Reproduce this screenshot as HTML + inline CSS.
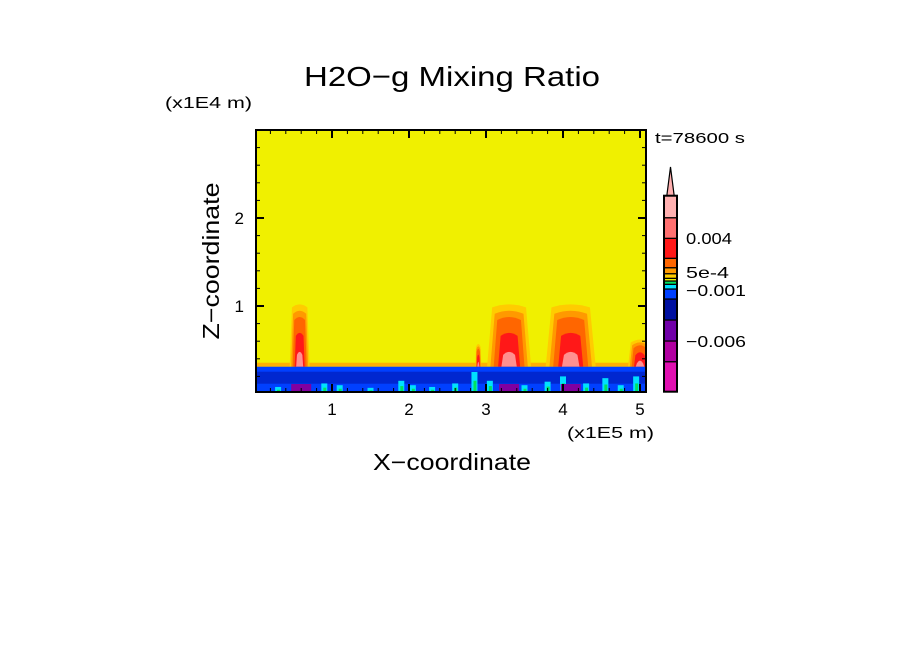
<!DOCTYPE html>
<html><head><meta charset="utf-8"><style>
body{margin:0;background:#fff;width:904px;height:654px;overflow:hidden}
svg text{font-family:"Liberation Sans",sans-serif;fill:#000}
</style></head><body>
<svg id="chart" width="904" height="654" xmlns="http://www.w3.org/2000/svg">
<text x="452" y="86" font-size="28" text-anchor="middle" textLength="296" lengthAdjust="spacingAndGlyphs">H2O−g Mixing Ratio</text>
<text x="165" y="108" font-size="16" textLength="87" lengthAdjust="spacingAndGlyphs">(x1E4 m)</text>
<text x="567" y="438" font-size="16" textLength="87" lengthAdjust="spacingAndGlyphs">(x1E5 m)</text>
<text x="655" y="143" font-size="15" textLength="90" lengthAdjust="spacingAndGlyphs">t=78600 s</text>
<text x="452" y="470" font-size="23" text-anchor="middle" textLength="158" lengthAdjust="spacingAndGlyphs">X−coordinate</text>
<text x="0" y="0" font-size="23" text-anchor="middle" textLength="157" lengthAdjust="spacingAndGlyphs" transform="translate(219,261) rotate(-90)">Z−coordinate</text>
<g id="plot"></g>
<g id="cbar"></g>
</svg>
<script>
// axis data
const xTicks=[1,2,3,4,5];
const yTicks=[1,2];
const blTop=0.31; // boundary layer top (x1E4 m)
// plumes: center x (1E5 m), top z (1E4 m), half-width (1E5 m)
const plumeX=[0.58,3.3,4.1,5.0,2.9];
const plumeTop=[1.03,1.03,1.03,0.63,0.58];
const plumeHalfW=[0.1,0.22,0.25,0.12,0.03];
// boundary-layer streaks (x positions in 1E5 m) and heights
const streakX=[0.3,0.9,1.1,1.5,1.9,2.05,2.3,2.6,2.85,3.05,3.5,3.8,4.0,4.3,4.55,4.75,4.95];
const streakH=[0.08,0.12,0.1,0.07,0.15,0.1,0.08,0.12,0.25,0.15,0.1,0.14,0.2,0.12,0.18,0.1,0.2];
// colorbar levels
const cbColors=["#e010b0","#b000a0","#7000a8","#0010a0","#0040ff","#00e0ff","#00e060","#f0f000","#ffcc00","#ff9900","#ff6600","#ff1818","#ff7070"];
const cbBounds=[391.7,361.7,341,320,299,289,284.3,281,278.3,273.7,267.7,258.3,238.3,217.7,195.7];
const cbLabels=["0.004","5e-4","−0.001","−0.006"];
const cbLabelY=[238,272,290,341];

const NS="http://www.w3.org/2000/svg";
const X0=255,XS=77,Y0=394,YS=88,L=256,R=646,T=130,B=392;
const sx=v=>X0+v*XS, sy=v=>Y0-v*YS;
function mk(tag,attrs,parent){const e=document.createElementNS(NS,tag);for(const k in attrs)e.setAttribute(k,attrs[k]);parent.appendChild(e);return e;}
const plot=document.getElementById('plot');
const clip=mk('clipPath',{id:'c'},plot);mk('rect',{x:L,y:T,width:R-L,height:B-T},clip);
const g=mk('g',{'clip-path':'url(#c)'},plot);
let bg=mk('rect',{x:L,y:T,width:R-L,height:B-T,fill:'#f0f000'},g);


let hz=mk('rect',{x:L,y:sy(blTop)-4,width:R-L,height:4,fill:'#ffb000'},g);


const lev=[["#ffcc00",1,1],["#ff9900",0.9,0.85],["#ff6600",0.8,0.7],["#ff1818",0.55,0.5],["#ff9090",0.25,0.35]];
plumeX.forEach((px,i)=>{
  lev.forEach(([c,hf,wf])=>{
    const top=blTop+(plumeTop[i]-blTop)*hf;
    const hw=plumeHalfW[i]*wf;
    const p=mk('path',{fill:c,d:`M${sx(px-hw*1.3)},${sy(blTop)} L${sx(px-hw)},${sy(top)+4} Q${sx(px)},${sy(top)-2} ${sx(px+hw)},${sy(top)+4} L${sx(px+hw*1.3)},${sy(blTop)} Z`},g);
    
    
  });
});
let bl=mk('rect',{x:L,y:sy(blTop),width:R-L,height:B-sy(blTop),fill:'#0040ff'},g);


let bl2=mk('rect',{x:L,y:sy(blTop)+5,width:R-L,height:12,fill:'#0018b0',opacity:0.6},g);


streakX.forEach((sxv,i)=>{
  const r=mk('rect',{x:sx(sxv)-3,y:sy(streakH[i]),width:6,height:B-sy(streakH[i]),fill:'#00e0ff'},g);
  
  
  const r2=mk('rect',{x:sx(sxv)-1,y:sy(streakH[i]*0.6),width:3,height:B-sy(streakH[i]*0.6),fill:'#00e060'},g);
  
  
});
[0.6,3.3,4.1].forEach(v=>{const r=mk('rect',{x:sx(v)-10,y:B-8,width:20,height:8,fill:'#8000a0'},g);

});
const fr=mk('rect',{x:L,y:T,width:R-L,height:B-T,fill:'none',stroke:'#000','stroke-width':2},plot);


for(let k=1;k<=25;k++){const v=k*0.2,x=sx(v);if(x>R-1)break;const maj=Math.abs(v-Math.round(v))<1e-6;const len=maj?8:4;
  mk('line',{x1:x,y1:B,x2:x,y2:B-len,stroke:'#000','stroke-width':maj?2:1},plot);
  mk('line',{x1:x,y1:T,x2:x,y2:T+len,stroke:'#000','stroke-width':maj?2:1},plot);}
for(let k=1;k<=14;k++){const v=k*0.2,y=sy(v);if(y<T+1)break;const maj=Math.abs(v-Math.round(v))<1e-6;const len=maj?8:4;
  mk('line',{x1:L,y1:y,x2:L+len,y2:y,stroke:'#000','stroke-width':maj?2:1},plot);
  mk('line',{x1:R,y1:y,x2:R-len,y2:y,stroke:'#000','stroke-width':maj?2:1},plot);}
xTicks.forEach(v=>{const t=mk('text',{x:sx(v),y:415,'font-size':17,'text-anchor':'middle'},plot);t.textContent=v;

});
yTicks.forEach(v=>{const t=mk('text',{x:244,y:sy(v)+6,'font-size':17,'text-anchor':'end'},plot);t.textContent=v;

});
const cb=document.getElementById('cbar');
const cx0=664,cx1=677;
cbColors.forEach((c,i)=>{const y1=cbBounds[i],y0=cbBounds[i+1];
  const r=mk('rect',{x:cx0,y:y0,width:cx1-cx0,height:y1-y0,fill:c,stroke:'#000','stroke-width':1.2},cb);
  
  });
const tri=mk('path',{d:`M${cx0},${cbBounds[13]} L${(cx0+cx1)/2},167 L${cx1},${cbBounds[13]} Z`,fill:'#ffb0b0',stroke:'#000','stroke-width':1.2},cb);


const topSw=mk('rect',{x:cx0,y:cbBounds[14],width:cx1-cx0,height:cbBounds[13]-cbBounds[14],fill:'#ffb0b0',stroke:'#000','stroke-width':1.2},cb);


mk('rect',{x:cx0,y:cbBounds[14],width:cx1-cx0,height:cbBounds[0]-cbBounds[14],fill:'none',stroke:'#000','stroke-width':2},cb);
const cbW=[46,43,60,60];
cbLabels.forEach((s,i)=>{const t=mk('text',{x:686,y:cbLabelY[i]+6,'font-size':16,textLength:cbW[i],lengthAdjust:'spacingAndGlyphs'},cb);t.textContent=s;

});
</script>
</body></html>
